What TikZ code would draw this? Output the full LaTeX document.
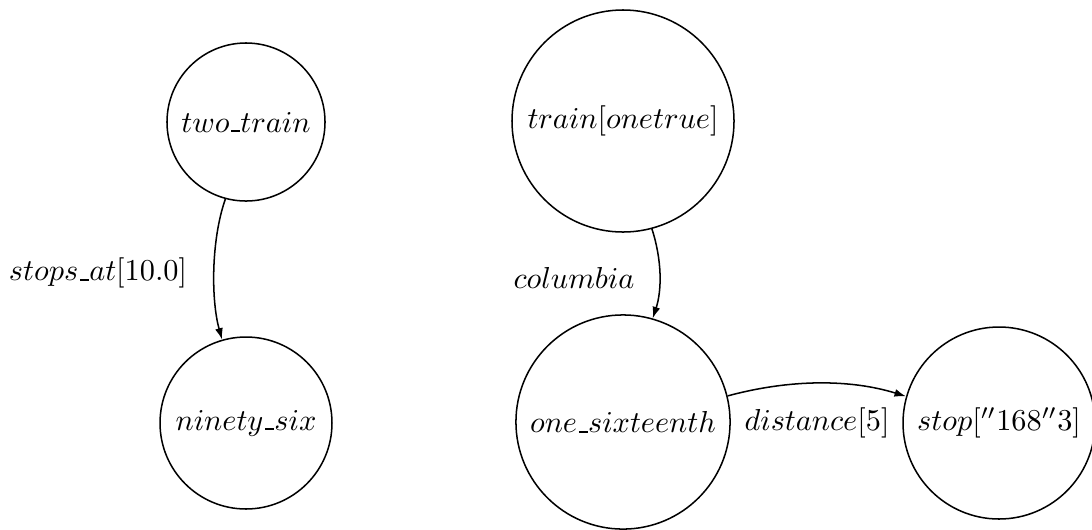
\documentclass[tikz,border=0pt]{standalone}
\usetikzlibrary{arrows.meta}
\newcommand{\myus}{\mathord{\kern.06em\vbox{\hrule width.3em height .6pt}}}
\begin{document}
\begin{tikzpicture}[x=0.3297pt,y=-0.3297pt,
  state/.style={draw,circle,inner sep=0pt,line width=0.5pt},
  edge/.style={line width=0.5pt,-{Latex[length=3.8pt,width=2.6pt]}},
  lbl/.style={inner sep=0pt}]
\useasboundingbox (0,0) rectangle (1092,529);
\node[state,minimum size=52.1pt] (two) at (246,122) {$two\myus train$};
\node[state,minimum size=56.7pt] (ninety) at (246,423) {$ninety\myus six$};
\node[state,minimum size=73.2pt] (train) at (623,121) {$train[onetrue]$};
\node[state,minimum size=70.6pt] (sixteenth) at (623,422) {$one\myus sixteenth$};
\node[state,minimum size=63.3pt] (stop) at (999,423) {$stop[''168''3]$};
\draw[edge] (two.255) .. controls (211,240) and (211,300) .. (ninety.106);
\draw[edge] (train.285) .. controls (662,260) and (662,290) .. (sixteenth.74);
\draw[edge] (sixteenth.14) .. controls (790,379) and (850,379) .. (stop.164);
\node[lbl] (l1) at (98,273) {$stops\myus at[10.0]$};
\node[lbl] (l2) at (574,278) {$columbia$};
\node[lbl] (l3) at (817,423) {$distance[5]$};
\end{tikzpicture}
\end{document}
